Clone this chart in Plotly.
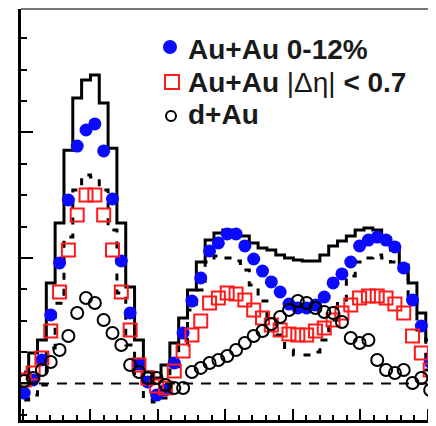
import numpy as np
import plotly.graph_objects as go

# Δφ bins: 2π split in 48 bins of width π/24; visible bins k = -8 .. 38
bin_index = np.arange(-8, 39)
dphi = (bin_index + 0.5) * np.pi / 24

# Au+Au 0-12% (jet pair yield after flow subtraction)
auau = [-0.076, 0.028, 0.187, 0.546, 0.960, 1.462, 1.892, 2.020, 2.068, 1.853,
        1.470, 0.976, 0.562, 0.155, 0.012, -0.092, -0.052, 0.163, 0.402, 0.657,
        0.841, 1.056, 1.120, 1.191, 1.191, 1.096, 0.992, 0.896, 0.809, 0.729,
        0.633, 0.602, 0.602, 0.625, 0.689, 0.801, 0.873, 0.968, 1.096, 1.143,
        1.167, 1.143, 1.088, 0.920, 0.665, 0.458, 0.171]

# Au+Au |Δη| < 0.7
auau_deta = [0.028, 0.084, 0.203, 0.418, 0.729, 1.064, 1.343, 1.502, 1.502, 1.343,
             1.064, 0.729, 0.426, 0.147, 0.044, -0.020, -0.036, 0.100, 0.259, 0.386,
             0.498, 0.641, 0.681, 0.721, 0.713, 0.665, 0.586, 0.522, 0.466, 0.426,
             0.394, 0.386, 0.386, 0.418, 0.442, 0.506, 0.562, 0.625, 0.681, 0.697,
             0.697, 0.681, 0.633, 0.562, 0.378, 0.243, 0.108]

# d+Au
dau = [0.020, 0.044, 0.108, 0.171, 0.267, 0.378, 0.562, 0.681, 0.641, 0.506,
       0.402, 0.307, 0.147, 0.092, 0.044, 0.044, -0.012, -0.036, -0.036, 0.092,
       0.124, 0.163, 0.187, 0.219, 0.267, 0.323, 0.378, 0.418, 0.474, 0.530,
       0.586, 0.657, 0.641, 0.602, 0.570, 0.562, 0.490, 0.363, 0.323, 0.347,
       0.187, 0.108, 0.084, 0.108, 0.004, 0.044, -0.052]

# flow systematic band of Au+Au 0-12%: solid and dashed edges
sys_solid = [0.092, 0.243, 0.347, 0.801, 1.279, 1.859, 2.275, 2.418, 2.458, 2.235,
             1.875, 1.279, 0.769, 0.347, 0.092, 0.044, 0.147, 0.323, 0.522, 0.745,
             0.968, 1.143, 1.199, 1.223, 1.207, 1.175, 1.120, 1.080, 1.064, 1.024,
             1.000, 0.984, 0.976, 0.976, 1.024, 1.096, 1.135, 1.175, 1.223, 1.239,
             1.223, 1.159, 1.064, 0.944, 0.801, 0.562, 0.347]
sys_dashed = [-0.131, -0.092, -0.012, 0.283, 0.640, 1.167, 1.542, 1.661, 1.645, 1.542,
              1.223, 0.720, 0.307, 0.068, -0.116, -0.147, -0.116, 0.108, 0.307, 0.586,
              0.745, 0.968, 1.016, 1.000, 0.976, 0.904, 0.785, 0.657, 0.506, 0.386,
              0.267, 0.227, 0.227, 0.251, 0.347, 0.506, 0.665, 0.857, 0.968, 1.000,
              1.024, 1.000, 0.968, 0.904, 0.665, 0.426, 0.108]

legend_names = ["Au+Au 0-12%", "Au+Au |Δη| < 0.7", "d+Au"]

# page has an 8px body margin: figure is placed at (8, 8)
OFF = 8
FIG_W, FIG_H = 436 - OFF, 426 - OFF
L = 21 - OFF      # plot-area left edge (figure px)
T = 9 - OFF       # plot-area top edge
B = 6
W = FIG_W - L
H = FIG_H - T - B

def px(xp):   # page px -> paper x
    return (xp - OFF - L) / W
def py(yp):   # page px -> paper y
    return 1 - (yp - OFF - T) / H

fig = go.Figure()
fig.add_trace(go.Scatter(x=dphi, y=sys_solid, mode="lines", line_shape="hvh",
                         line=dict(color="black", width=3), showlegend=False))
fig.add_trace(go.Scatter(x=dphi, y=sys_dashed, mode="lines", line_shape="hvh",
                         line=dict(color="black", width=3, dash="7px,9px"), showlegend=False))
fig.add_trace(go.Scatter(x=dphi, y=auau, mode="markers", name=legend_names[0],
                         marker=dict(symbol="circle", size=13, color="#0a0aff"),
                         showlegend=False))
fig.add_trace(go.Scatter(x=dphi, y=auau_deta, mode="markers", name=legend_names[1],
                         marker=dict(symbol="square-open", size=13, color="#ff1a1a",
                                     line=dict(width=2)), showlegend=False))
fig.add_trace(go.Scatter(x=dphi, y=dau, mode="markers", name=legend_names[2],
                         marker=dict(symbol="circle-open", size=12, color="black",
                                     line=dict(width=2)), showlegend=False))

# zero line
fig.add_shape(type="line", xref="paper", yref="y", x0=0, x1=1, y0=0, y1=0,
              line=dict(color="black", width=2, dash="10px,8px"))
# top frame
fig.add_shape(type="line", xref="paper", yref="paper", x0=0, x1=1, y0=1, y1=1,
              line=dict(color="#777777", width=2))

# manual legend (glyphs + text)
fig.add_shape(type="circle", xref="paper", yref="paper",
              x0=px(163), x1=px(177), y0=py(40), y1=py(54),
              fillcolor="#0a0aff", line=dict(color="#0a0aff", width=0))
fig.add_shape(type="rect", xref="paper", yref="paper",
              x0=px(165), x1=px(179), y0=py(75), y1=py(89),
              line=dict(color="#ff1a1a", width=2))
fig.add_shape(type="circle", xref="paper", yref="paper",
              x0=px(166), x1=px(176), y0=py(111), y1=py(121),
              line=dict(color="black", width=2))
texts = ["<b>Au+Au 0-12%</b>", "<b>Au+Au</b> |Δη| <b>&lt; 0.7</b>", "<b>d+Au</b>"]
for t, yc in zip(texts, [50, 82, 114]):
    fig.add_annotation(text=t, xref="paper", yref="paper", x=px(186), y=py(yc),
                       xanchor="left", yanchor="middle", showarrow=False,
                       font=dict(family="Liberation Sans", size=28, color="#1a1a1a"))

fig.update_xaxes(range=[-1.03, 5.126], showgrid=False, zeroline=False,
                 showline=True, linecolor="black", linewidth=3,
                 ticks="inside", tickvals=[-1, 0, 1, 2, 3, 4, 5], ticklen=11,
                 tickwidth=2, tickcolor="black", showticklabels=False,
                 minor=dict(dtick=0.2, tick0=0, ticks="inside", ticklen=5,
                            tickwidth=2, tickcolor="black"))
fig.update_yaxes(range=[-0.291, 2.984], showgrid=False, zeroline=False,
                 showline=True, linecolor="black", linewidth=3,
                 ticks="inside", tickvals=[0, 1, 2], ticklen=12,
                 tickwidth=2, tickcolor="black", showticklabels=False,
                 minor=dict(dtick=0.25, tick0=0, ticks="inside", ticklen=6,
                            tickwidth=2, tickcolor="black"))
fig.update_layout(width=FIG_W, height=FIG_H, margin=dict(l=L, r=0, t=T, b=B),
                  plot_bgcolor="white", paper_bgcolor="white", showlegend=False)
fig.write_html("out.html")
